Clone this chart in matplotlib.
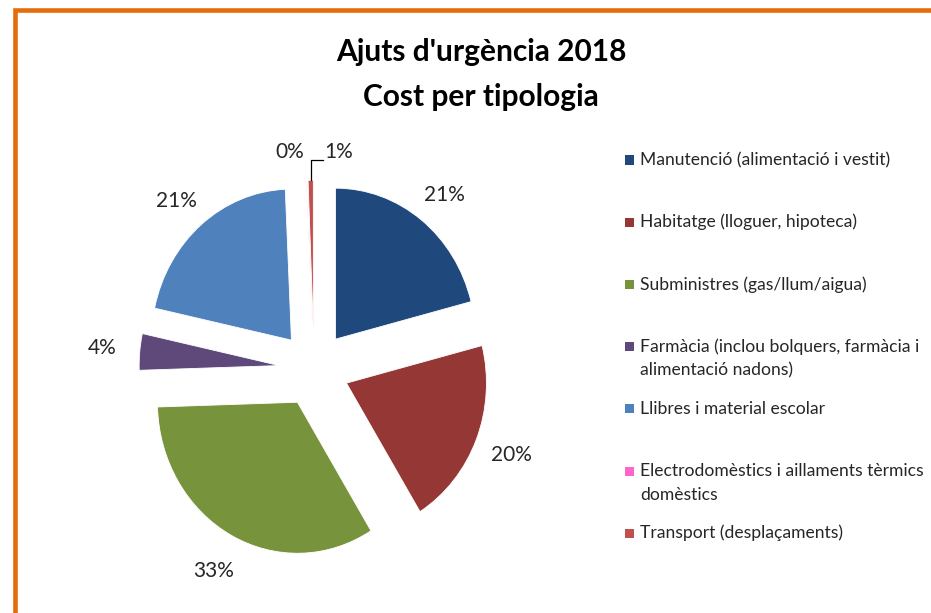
import matplotlib
matplotlib.use('Agg')
import matplotlib.pyplot as plt
from matplotlib.patches import Rectangle
import numpy as np

# dades del grafic
categories = ['Manutenció (alimentació i vestit)',
              'Habitatge (lloguer, hipoteca)',
              'Subministres (gas/llum/aigua)',
              'Farmàcia (inclou bolquers, farmàcia i\nalimentació nadons)',
              'Llibres i material escolar',
              'Electrodomèstics i aillaments tèrmics\ndomèstics',
              'Transport (desplaçaments)']
shares = [21.0, 20.2, 33.3, 3.9, 20.9, 0.1, 0.6]
colors = ['#1F497D', '#953735', '#77933C', '#5F497A', '#4F81BD', '#FF66CC', '#C0504D']
title_lines = ["Ajuts d'urgència 2018", 'Cost per tipologia']

W, H = 931, 613
plt.rcParams['font.family'] = ['Lato', 'DejaVu Sans']
fig = plt.figure(figsize=(W/100, H/100), dpi=100)
fig.patch.set_facecolor('white')

# marc taronja (nomes es veu dalt i a l'esquerra)
fig.patches.append(Rectangle((15/W, -0.2), 2, 1.2 - 9.5/H, transform=fig.transFigure,
                             fill=False, edgecolor='#E46C0A', linewidth=3.3))

# eix del pastis: una mica estirat en vertical com l'original
cx, cy, rx, ry, lim = 314, 369, 140, 151, 1.6
ax = fig.add_axes([(cx - lim*rx)/W, 1 - (cy + lim*ry)/H, 2*lim*rx/W, 2*lim*ry/H])
wedges, _ = ax.pie(shares, colors=colors, startangle=90, counterclock=False,
                   explode=[0.25]*len(shares),
                   wedgeprops=dict(edgecolor='white', linewidth=0.6))
ax.set_aspect('auto')
ax.set_xlim(-lim, lim)
ax.set_ylim(-lim, lim)

for i, w in enumerate(wedges):
    th = np.deg2rad((w.theta1 + w.theta2) / 2)
    x0, y0 = w.center
    txt = '%d%%' % round(shares[i])
    if shares[i] >= 2:
        dy = -0.05 if np.sin(th) > 0.3 else 0.0
        ax.text(x0 + 1.27*np.cos(th), y0 + 1.27*np.sin(th) + dy, txt,
                ha='center', va='center', fontsize=15, color='#262626')
    elif i == len(wedges) - 1:
        tx, ty = x0 + np.cos(th), y0 + np.sin(th)
        ax.plot([tx, tx, tx + 0.085], [ty, ty + 0.135, ty + 0.135], color='black', lw=0.9)
        ax.text(tx + 0.1, ty + 0.185, txt, ha='left', va='center', fontsize=15, color='#262626')
    else:
        ax.text(x0 + np.cos(th) - 0.02, y0 + np.sin(th) + 0.185, txt,
                ha='right', va='center', fontsize=15, color='#262626')

# titol
for k, line in enumerate(title_lines):
    fig.text(481/W, 1 - (52 + 45*k)/H, line, ha='center', va='center',
             fontsize=21.5, fontweight='bold', color='black')

# llegenda manual (quadre alineat amb la primera linia)
for i, lab in enumerate(categories):
    y = 160 + 62.2*i
    fig.patches.append(Rectangle((625/W, 1 - (y + 4.5)/H), 9/W, 9/H, transform=fig.transFigure,
                                 facecolor=colors[i], edgecolor='none'))
    for k, part in enumerate(lab.split('\n')):
        fig.text(640/W, 1 - (y + 24*k)/H, part, ha='left', va='center',
                 fontsize=12.6, color='#262626')

fig.savefig('out.png', dpi=100)
